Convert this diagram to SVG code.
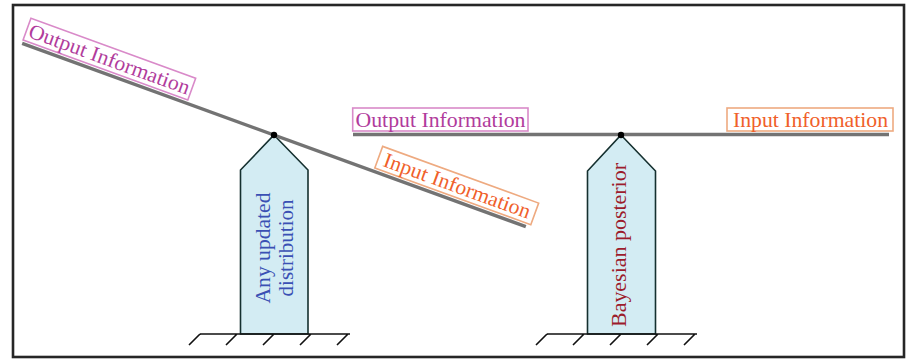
<svg xmlns="http://www.w3.org/2000/svg" width="920" height="360" viewBox="0 0 920 360">
<style>
text{font-family:"Liberation Serif","Times New Roman",serif;font-size:21px}
.frame{fill:#fff;stroke:#262626;stroke-width:2.6}
.beam{stroke:#737373;stroke-width:3.4;fill:none}
.outbox{fill:#fff;stroke:#d98ac9;stroke-width:1.6}
.inbox{fill:#fff;stroke:#eeaa80;stroke-width:1.6}
.outtxt{fill:#b13c9c}
.intxt{fill:#f0602a}
.pillar{fill:#d3ecf3;stroke:#15302f;stroke-width:1.6;stroke-linejoin:miter}
.ground{stroke:#111;stroke-width:1.6;fill:none}
.blue{fill:#3a50b4}
.red{fill:#9c1c2c}
</style>
<defs>
<g id="beamset">
<line class="beam" x1="-268" y1="0" x2="268" y2="0"/>
<rect class="outbox" x="-268.3" y="-26.5" width="175.3" height="23"/>
<text class="outtxt" x="-180.5" y="-8" text-anchor="middle" textLength="170" lengthAdjust="spacingAndGlyphs">Output Information</text>
<rect class="inbox" x="106" y="-26.5" width="166" height="23"/>
<text class="intxt" x="189.5" y="-8" text-anchor="middle" textLength="155" lengthAdjust="spacingAndGlyphs">Input Information</text>
</g>
<g id="groundset">
<path class="ground" d="M-74 0H76M-74 0l-11 11M-37 0l-11 11M0 0l-11 11M37 0l-11 11M74 0l-11 11"/>
</g>
</defs>
<rect class="frame" x="13" y="5" width="891" height="352"/>
<g id="left-support">
<polygon class="pillar" points="274,135 308,170 308,334 240.5,334 240.5,170"/>
<use href="#groundset" transform="translate(274,334)"/>
<text class="blue" transform="translate(270,248) rotate(-90)" text-anchor="middle" textLength="111" lengthAdjust="spacingAndGlyphs">Any updated</text>
<text class="blue" transform="translate(292.5,248) rotate(-90)" text-anchor="middle" textLength="97" lengthAdjust="spacingAndGlyphs">distribution</text>
</g>
<g id="right-support">
<polygon class="pillar" points="621,135 655.5,171 655.5,334 587.5,334 587.5,171"/>
<use href="#groundset" transform="translate(621,334)"/>
<text class="red" transform="translate(626,245) rotate(-90)" text-anchor="middle" textLength="164" lengthAdjust="spacingAndGlyphs">Bayesian posterior</text>
</g>
<g id="left-beam">
<use href="#beamset" transform="translate(274,135) rotate(20)"/>
<circle cx="274" cy="135" r="3.2" fill="#000"/>
</g>
<g id="right-beam">
<use href="#beamset" transform="translate(621,134.5)"/>
<circle cx="621" cy="135" r="3.2" fill="#000"/>
</g>
</svg>
